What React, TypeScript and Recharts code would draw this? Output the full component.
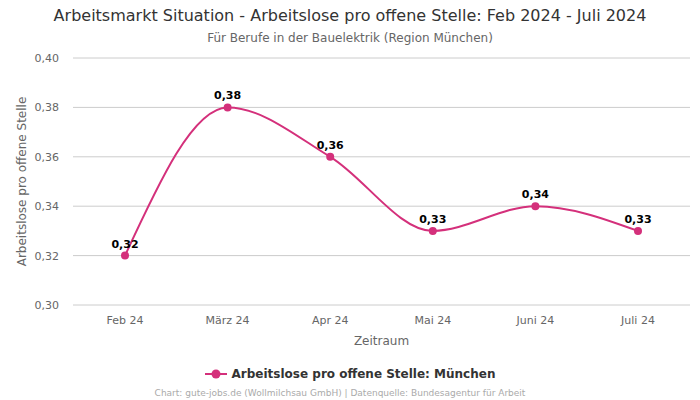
import React from "react";
import { LineChart, Line, XAxis, YAxis, CartesianGrid, LabelList } from "recharts";

const categories = ["Feb 24", "März 24", "Apr 24", "Mai 24", "Juni 24", "Juli 24"];
const values = [0.32, 0.38, 0.36, 0.33, 0.34, 0.33];
const yTicks = [0.3, 0.32, 0.34, 0.36, 0.38, 0.4];

const data = categories.map((c, i) => ({ name: c, value: values[i] }));

const COLOR = "#d4307b";
const FONT = "'DejaVu Sans', sans-serif";
const fmt = (v: number) => v.toFixed(2).replace(".", ",");

export default function App() {
  return (
    <div style={{ position: "absolute", left: 0, top: 0, width: 700, height: 400, fontFamily: FONT }}>
      <div style={{ position: "absolute", top: 6, left: 0, width: 700, textAlign: "center", fontSize: 16, color: "#333" }}>
        Arbeitsmarkt Situation - Arbeitslose pro offene Stelle: Feb 2024 - Juli 2024
      </div>
      <div style={{ position: "absolute", top: 31, left: 0, width: 700, textAlign: "center", fontSize: 12, color: "#666" }}>
        Für Berufe in der Bauelektrik (Region München)
      </div>
      <LineChart width={700} height={400} data={data} margin={{ top: 58, right: 10, left: 0, bottom: 65 }}>
        <CartesianGrid vertical={false} stroke="#cccccc" />
        <XAxis
          dataKey="name"
          axisLine={false}
          tickLine={false}
          padding={{ left: 52, right: 52 }}
          tick={{ fontSize: 11, fill: "#666", fontFamily: FONT }}
          tickMargin={5}
          label={{ value: "Zeitraum", position: "insideBottom", offset: -10, fontSize: 12, fill: "#666", fontFamily: FONT }}
        />
        <YAxis
          domain={[0.3, 0.4]}
          ticks={yTicks}
          width={73}
          axisLine={false}
          tickLine={false}
          tickFormatter={fmt}
          tick={{ fontSize: 11, fill: "#666", fontFamily: FONT }}
          tickMargin={8}
          label={{ value: "Arbeitslose pro offene Stelle", angle: -90, position: "insideLeft", offset: 22, fontSize: 12, fill: "#666", fontFamily: FONT, style: { textAnchor: "middle" } }}
        />
        <Line
          type="monotone"
          dataKey="value"
          stroke={COLOR}
          strokeWidth={2}
          dot={{ r: 4, fill: COLOR, stroke: COLOR, strokeWidth: 0 }}
          activeDot={false}
          isAnimationActive={false}
        >
          <LabelList dataKey="value" position="top" offset={8} formatter={fmt} style={{ fontSize: 11, fontWeight: "bold", fill: "#000", fontFamily: FONT }} />
        </Line>
      </LineChart>
      <div style={{ position: "absolute", top: 367, left: 0, width: 700, display: "flex", justifyContent: "center", alignItems: "center", fontSize: 12, fontWeight: "bold", color: "#333" }}>
        <svg width={22} height={12} style={{ marginRight: 5 }}>
          <line x1={0} y1={6} x2={22} y2={6} stroke={COLOR} strokeWidth={2} />
          <circle cx={11} cy={6} r={4.5} fill={COLOR} />
        </svg>
        Arbeitslose pro offene Stelle: München
      </div>
      <div style={{ position: "absolute", top: 388, left: -10, width: 700, textAlign: "center", fontSize: 9, color: "#aaa" }}>
        Chart: gute-jobs.de (Wollmilchsau GmbH) | Datenquelle: Bundesagentur für Arbeit
      </div>
    </div>
  );
}
